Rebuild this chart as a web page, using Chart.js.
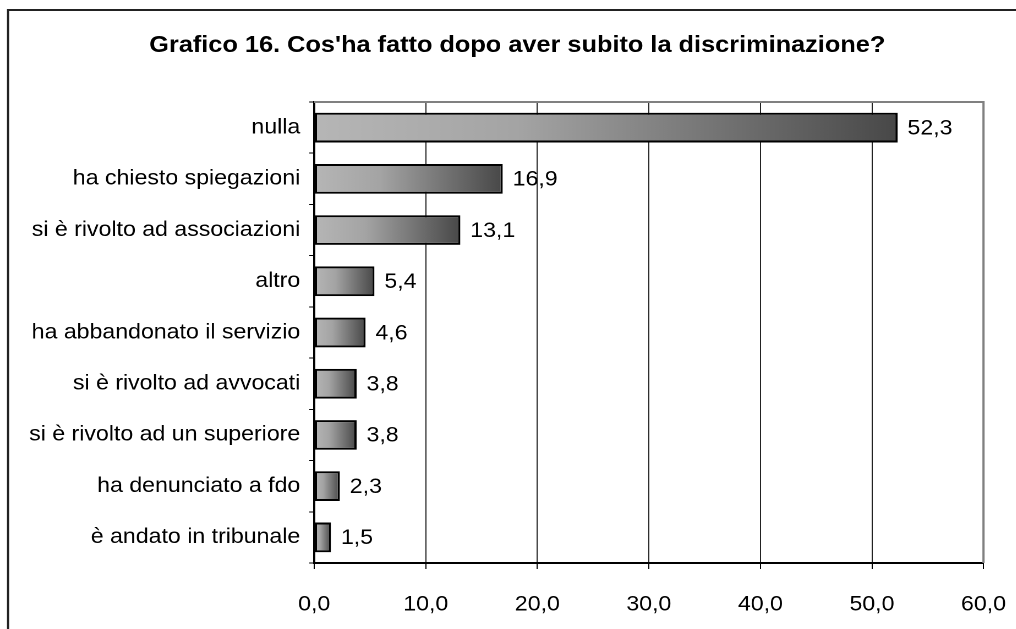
<!DOCTYPE html>
<html>
<head>
<meta charset="utf-8">
<script src="https://cdn.jsdelivr.net/npm/chart.js@4/dist/chart.umd.min.js"></script>
<style>
  html, body { margin: 0; padding: 0; background: #fff; overflow: hidden; }
  /* the chart is laid out narrower and stretched wide, like the printed original */
  #wrap { width: 923.6px; height: 629px; transform: scaleX(1.1); transform-origin: 0 0; }
</style>
</head>
<body>
<div id="wrap"><canvas id="chart"></canvas></div>
<script>
// Risposte
let categories = [
  "nulla",
  "ha chiesto spiegazioni",
  "si è rivolto ad associazioni",
  "altro",
  "ha abbandonato il servizio",
  "si è rivolto ad avvocati",
  "si è rivolto ad un superiore",
  "ha denunciato a fdo",
  "è andato in tribunale"
];
let percent = [52.3, 16.9, 13.1, 5.4, 4.6, 3.8, 3.8, 2.3, 1.5];
let xTicks = [0, 10, 20, 30, 40, 50, 60];

let titleText = "Grafico 16. Cos'ha fatto dopo aver subito la discriminazione?";
let fontFamily = "'Liberation Sans', Arial, sans-serif";

function fmt(v) {
  return v.toFixed(1).replace('.', ',');
}

// gradient from light grey to dark grey, stretched over each bar
function barFill(ctx) {
  let chart = ctx.chart;
  let x = chart.scales.x;
  if (!chart.chartArea || !x || ctx.dataIndex === undefined) return '#999';
  let x0 = x.getPixelForValue(0);
  let x1 = x.getPixelForValue(percent[ctx.dataIndex]);
  if (!isFinite(x0) || !isFinite(x1) || x1 <= x0) return '#999';
  let g = chart.ctx.createLinearGradient(x0, 0, x1, 0);
  g.addColorStop(0, '#b6b6b6');
  g.addColorStop(0.35, '#a4a4a4');
  g.addColorStop(1, '#484848');
  return g;
}

// outer frame (only top and left edges show) + title
const framePlugin = {
  id: 'frame',
  beforeDraw(chart) {
    let c = chart.ctx;
    c.save();
    c.fillStyle = '#fff';
    c.fillRect(0, 0, chart.width, chart.height);
    c.strokeStyle = '#222';
    c.lineWidth = 2;
    c.beginPath();
    c.moveTo(7.3, chart.height);
    c.lineTo(7.3, 10);
    c.lineTo(chart.width, 10);
    c.stroke();
    c.font = 'bold 23px ' + fontFamily;
    c.fillStyle = '#000';
    c.textAlign = 'center';
    c.textBaseline = 'alphabetic';
    c.fillText(titleText, 470, 52);
    c.restore();
  }
};

// grey border on top and right of the plot
const plotBorder = {
  id: 'plotBorder',
  beforeDatasetsDraw(chart) {
    let a = chart.chartArea;
    let c = chart.ctx;
    c.save();
    c.strokeStyle = '#808080';
    c.lineWidth = 2;
    c.beginPath();
    c.moveTo(a.left, a.top);
    c.lineTo(a.right, a.top);
    c.lineTo(a.right, a.bottom);
    c.stroke();
    c.restore();
  }
};

// value labels next to each bar
const valueLabels = {
  id: 'valueLabels',
  afterDatasetsDraw(chart) {
    let c = chart.ctx;
    let meta = chart.getDatasetMeta(0);
    c.save();
    c.font = '21px ' + fontFamily;
    c.fillStyle = '#000';
    c.textBaseline = 'middle';
    c.textAlign = 'left';
    meta.data.forEach((bar, i) => {
      c.fillText(fmt(percent[i]), bar.x + 9, bar.y + 1);
    });
    c.restore();
  }
};

new Chart(document.getElementById('chart'), {
  type: 'bar',
  data: {
    labels: categories,
    datasets: [{
      data: percent,
      backgroundColor: barFill,
      borderColor: '#000',
      borderWidth: 2,
      borderSkipped: false,
      categoryPercentage: 1,
      barPercentage: 0.58
    }]
  },
  options: {
    indexAxis: 'y',
    responsive: true,
    maintainAspectRatio: false,
    animation: false,
    devicePixelRatio: 2,
    layout: { padding: { left: 0, right: 30, top: 102, bottom: 0 } },
    plugins: {
      legend: { display: false },
      tooltip: { enabled: false },
      title: { display: false }
    },
    scales: {
      x: {
        min: 0,
        max: 60,
        afterBuildTicks(s) { s.ticks = xTicks.map(v => ({ value: v })); },
        afterFit(s) {
          s.height = 66;
          // the end labels may hang past the plot, keep the plot edges fixed
          s.paddingLeft = 0;
          s.paddingRight = 0;
        },
        border: { display: true, color: '#000', width: 2 },
        grid: {
          color: c => (c.tick && c.tick.value === 60) ? '#808080' : '#222',
          lineWidth: 1,
          drawTicks: true,
          tickLength: 6,
          tickColor: '#000'
        },
        ticks: {
          color: '#000',
          padding: 23,
          font: { family: fontFamily, size: 21 },
          callback: v => fmt(v)
        }
      },
      y: {
        afterFit(s) { s.width = 285.5; },
        border: { display: true, color: '#000', width: 2 },
        grid: {
          offset: true,
          drawOnChartArea: false,
          drawTicks: true,
          tickLength: 4.5,
          tickColor: '#000'
        },
        ticks: {
          color: '#000',
          padding: 8.2,
          font: { family: fontFamily, size: 21 }
        }
      }
    }
  },
  plugins: [framePlugin, plotBorder, valueLabels]
});
</script>
</body>
</html>
